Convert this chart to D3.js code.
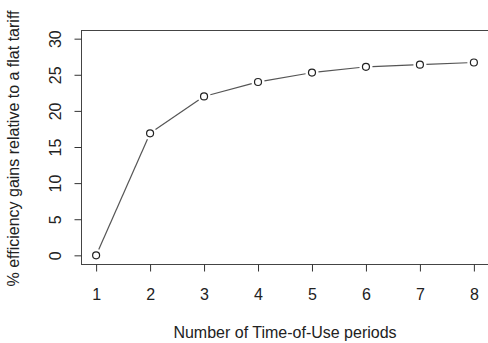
<!DOCTYPE html>
<html>
<head>
<meta charset="utf-8">
<script src="https://cdn.jsdelivr.net/npm/d3@7"></script>
<style>
  body { margin: 0; background: #fff; }
  svg { display: block; font-family: "Liberation Sans", Arial, sans-serif; }
</style>
</head>
<body>
<svg id="chart" width="488" height="343"></svg>
<script>
const periods = [1, 2, 3, 4, 5, 6, 7, 8];
const gains = [0, 16.9, 22.0, 24.0, 25.3, 26.1, 26.4, 26.7];
const yTicks = [0, 5, 10, 15, 20, 25, 30];

const svg = d3.select("#chart");
const mLeft = 81, mTop = 30, mRight = 489, mBottom = 264;
const fs = 16;

// R style: 4% padding on each side of the limits
const x = d3.scaleLinear().domain([0.72, 8.28]).range([mLeft, mRight]);
const y = d3.scaleLinear().domain([-1.2, 31.2]).range([mBottom, mTop]);

// box
svg.append("rect")
  .attr("x", mLeft + 0.5).attr("y", mTop + 0.5)
  .attr("width", mRight - mLeft).attr("height", mBottom - mTop)
  .attr("fill", "none").attr("stroke", "#444").attr("stroke-width", 1);

// y axis
const yAxis = svg.append("g")
  .attr("transform", "translate(" + (mLeft + 0.5) + ",0)")
  .call(d3.axisLeft(y).tickValues(yTicks).tickSize(7));
yAxis.select(".domain").remove();
yAxis.selectAll("line").attr("stroke", "#333");
yAxis.selectAll("text")
  .attr("font-size", fs).attr("fill", "#222")
  .attr("font-family", "Liberation Sans, Arial, sans-serif")
  .attr("text-anchor", "middle")
  .attr("x", 0).attr("y", 0).attr("dy", 0)
  .attr("transform", "translate(-21,0) rotate(-90)");

// x axis
const xAxis = svg.append("g")
  .attr("transform", "translate(0," + (mBottom + 0.5) + ")")
  .call(d3.axisBottom(x).tickValues(periods).tickFormat(d3.format("d")).tickSize(7).tickPadding(17));
xAxis.select(".domain").remove();
xAxis.selectAll("line").attr("stroke", "#333");
xAxis.selectAll("text")
  .attr("font-size", fs).attr("fill", "#222")
  .attr("font-family", "Liberation Sans, Arial, sans-serif");

// axis titles
svg.append("text")
  .attr("x", 285).attr("y", 338)
  .attr("text-anchor", "middle")
  .attr("font-size", fs).attr("fill", "#222")
  .text("Number of Time-of-Use periods");

svg.append("text")
  .attr("transform", "translate(18.5,148.5) rotate(-90)")
  .attr("text-anchor", "middle")
  .attr("font-size", fs).attr("fill", "#222")
  .text("% efficiency gains relative to a flat tariff");

// line segments with gaps around points (type = "b")
const pts = periods.map((p, i) => [x(p), y(gains[i])]);
const gap = 6.5;
const segs = [];
for (let i = 0; i < pts.length - 1; i++) {
  const [x0, y0] = pts[i], [x1, y1] = pts[i + 1];
  const len = Math.hypot(x1 - x0, y1 - y0);
  const ux = (x1 - x0) / len, uy = (y1 - y0) / len;
  segs.push([x0 + ux * gap, y0 + uy * gap, x1 - ux * gap, y1 - uy * gap]);
}
svg.selectAll(".seg").data(segs).enter().append("line")
  .attr("x1", d => d[0]).attr("y1", d => d[1])
  .attr("x2", d => d[2]).attr("y2", d => d[3])
  .attr("stroke", "#555").attr("stroke-width", 1.2);

svg.selectAll(".pt").data(periods).enter().append("circle")
  .attr("cx", d => x(d)).attr("cy", (d, i) => y(gains[i]))
  .attr("r", 3.5)
  .attr("fill", "none").attr("stroke", "#222").attr("stroke-width", 1.2);
</script>
</body>
</html>
